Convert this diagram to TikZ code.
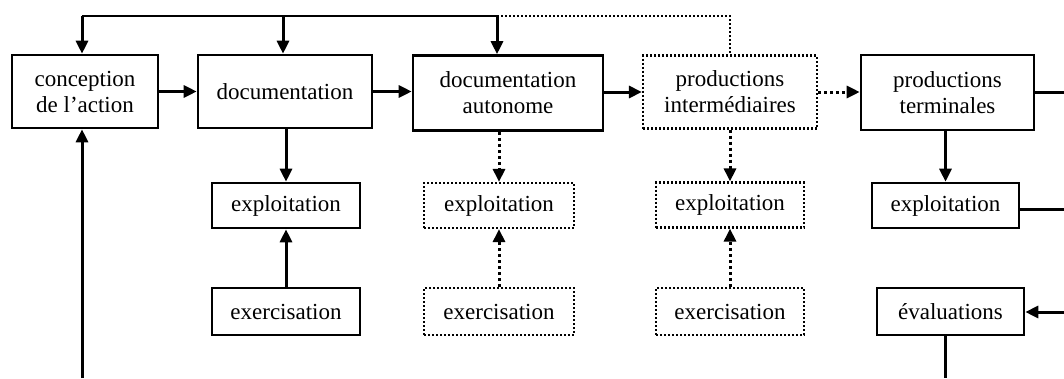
\documentclass[tikz,border=0pt]{standalone}
\usepackage{fontspec}
\setmainfont{Liberation Serif}
\usetikzlibrary{arrows.meta}
\begin{document}
\begin{tikzpicture}[x=1pt,y=-1pt,
  box/.style={draw, line width=2.6pt, align=center, inner sep=0pt,
    font=\fontsize{23}{26}\selectfont},
  dbox/.style={box, dash pattern=on 2pt off 2pt, line width=2.2pt},
  arr/.style={line width=3pt, -{Triangle[length=13pt,width=12pt]}},
  darr/.style={arr, dash pattern=on 3pt off 3pt},
  ln/.style={line width=3pt},
  thin/.style={line width=2.4pt},
  dthin/.style={line width=2pt, dash pattern=on 2pt off 2pt}]
\useasboundingbox (0,0) rectangle (1064,378);
% top row
\node[box, minimum width=146pt, minimum height=73pt] (conc) at (85,91.5) {conception\\de l'action};
\node[box, minimum width=174pt, minimum height=73pt] (doc) at (285,91.5) {documentation};
\node[box, minimum width=190pt, minimum height=75pt] (docaut) at (508,93) {documentation\\autonome};
\node[dbox, minimum width=174pt, minimum height=73pt] (prodint) at (730,92) {productions\\intermédiaires};
\node[box, minimum width=173pt, minimum height=75pt] (prodterm) at (947.5,92.5) {productions\\terminales};
% second row
\node[box, minimum width=148pt, minimum height=45pt] (expl1) at (286,205.5) {exploitation};
\node[dbox, minimum width=150pt, minimum height=45pt] (expl2) at (499,205.5) {exploitation};
\node[dbox, minimum width=148pt, minimum height=45pt] (expl3) at (730,205) {exploitation};
\node[box, minimum width=147pt, minimum height=45pt] (expl4) at (945.5,205.5) {exploitation};
% third row
\node[box, minimum width=148pt, minimum height=47pt] (exer1) at (286,311.5) {exercisation};
\node[dbox, minimum width=150pt, minimum height=47pt] (exer2) at (499,311.5) {exercisation};
\node[dbox, minimum width=148pt, minimum height=47pt] (exer3) at (730,311.5) {exercisation};
\node[box, minimum width=147pt, minimum height=47pt] (eval) at (950.5,311.5) {évaluations};
% free ends
\coordinate (t1) at (82,16);
\coordinate (t2) at (283,16);
\coordinate (t3) at (497,16);
\coordinate (t4) at (730,16);
\coordinate (r1) at (1064,92);
\coordinate (r2) at (1064,209);
\coordinate (r3) at (1064,312);
\coordinate (b0) at (82,378);
\coordinate (b1) at (945,378);
% top feedback line
\draw[thin] (t1) -- (t3);
\draw[dthin] (t3) -- (t4) -- (prodint.north);
\draw[arr] (t1) -- (t1 |- conc.north);
\draw[arr] (t2) -- (t2 |- doc.north);
\draw[arr] (t3) -- (t3 |- docaut.north);
% horizontal chain
\draw[arr] (conc.east) -- (doc.west);
\draw[arr] (doc.east) -- (doc.east -| docaut.west);
\draw[arr] (docaut.east |- prodint.west) -- (prodint.west);
\draw[darr] (prodint.east) -- (prodint.east -| prodterm.west);
\draw[ln] (prodterm.east |- r1) -- (r1);
% verticals
\draw[arr] (doc.south -| expl1.north) -- (expl1.north);
\draw[arr] (exer1.north) -- (expl1.south);
\draw[darr] (expl2.north |- docaut.south) -- (expl2.north);
\draw[darr] (exer2.north) -- (expl2.south);
\draw[darr] (prodint.south) -- (expl3.north);
\draw[darr] (exer3.north) -- (expl3.south);
\draw[arr] (expl4.north |- prodterm.south) -- (expl4.north);
% right side
\draw[ln] (expl4.east |- r2) -- (r2);
\draw[arr] (r3) -- (r3 -| eval.east);
\draw[ln] (eval.south -| b1) -- (b1);
\draw[arr] (b0) -- (b0 |- conc.south);
\end{tikzpicture}
\end{document}
